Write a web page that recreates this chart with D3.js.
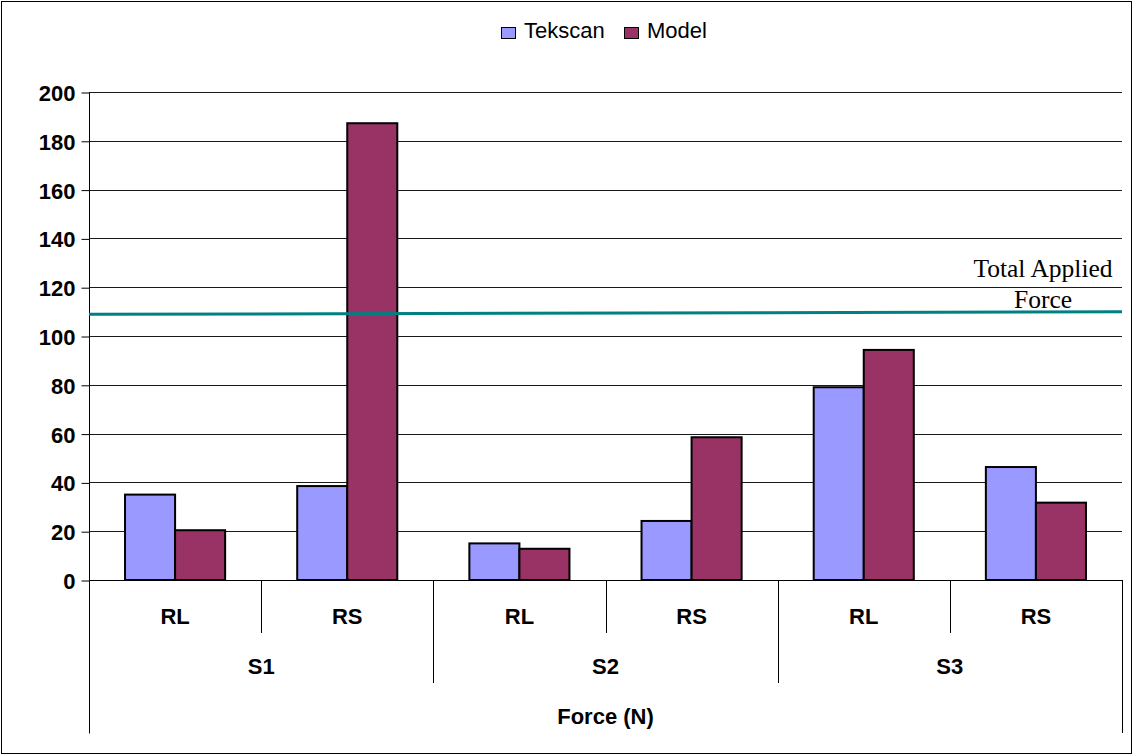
<!DOCTYPE html>
<html>
<head>
<meta charset="utf-8">
<script src="https://cdn.jsdelivr.net/npm/d3@7"></script>
<style>
  html, body { margin: 0; padding: 0; background: #fff; }
  svg { display: block; }
</style>
</head>
<body>
<svg id="chart" width="1133" height="755"></svg>
<script>
// Force (N) per site and region
const groups = ["S1", "S2", "S3"];
const regions = ["RL", "RS"];
const seriesNames = ["Tekscan", "Model"];
const tekscan = [35.0, 38.5, 15.0, 24.2, 79.0, 46.3];
const model = [20.4, 187.2, 12.8, 58.5, 94.3, 31.7];
const yTicks = [0, 20, 40, 60, 80, 100, 120, 140, 160, 180, 200];
// total applied force reference line, left and right end values
const totalForce = [108.9, 109.9];
const colors = ["#9999ff", "#993366"];

const sans = "Arial, 'Liberation Sans', sans-serif";
const serif = "'Times New Roman', 'Liberation Serif', serif";

const svg = d3.select("#chart");
const W = 1133, H = 755;
const m = { left: 89, right: 11, top: 92, bottom: 175 };
const x0 = m.left, x1 = W - m.right, yTop = m.top, yBase = H - m.bottom;

// outer frame
svg.append("rect").attr("x", 1.5).attr("y", 1.5).attr("width", W - 3).attr("height", H - 3)
  .attr("fill", "#fff").attr("stroke", "#000").attr("stroke-width", 1);

const y = d3.scaleLinear().domain([0, 200]).range([yBase, yTop]);

// flat category list: one band per (group, region)
const cats = [];
groups.forEach(g => regions.forEach(r => cats.push(g + "-" + r)));
const xb = d3.scaleBand().domain(cats).range([x0, x1]).paddingInner(0).paddingOuter(0);
const inner = d3.scaleBand().domain(seriesNames).range([0, xb.bandwidth()]).paddingInner(0).paddingOuter(0.72);

// gridlines
svg.append("g").selectAll("line").data(yTicks.filter(d => d > 0)).join("line")
  .attr("x1", x0).attr("x2", x1)
  .attr("y1", d => Math.round(y(d)) + 0.5).attr("y2", d => Math.round(y(d)) + 0.5)
  .attr("stroke", "#1a1a1a").attr("stroke-width", 1);

// y axis
const yAxis = d3.axisLeft(y).tickValues(yTicks).tickSize(8).tickPadding(6);
const ga = svg.append("g").attr("transform", `translate(${x0 + 0.5},0.5)`).call(yAxis);
ga.attr("font-size", null).attr("font-family", null);
ga.select(".domain").attr("d", `M0,${yTop}V${H - 22}`).attr("stroke", "#000");
ga.selectAll(".tick line").attr("stroke", "#000");
ga.selectAll(".tick text")
  .style("font-family", sans).style("font-size", "22px").style("font-weight", "bold")
  .attr("fill", "#000").attr("dy", "0.36em");

// bars
const rows = cats.map((c, i) => ({ cat: c, vals: [tekscan[i], model[i]] }));
const bars = svg.append("g");
rows.forEach(row => {
  bars.selectAll(null).data(row.vals.map((v, j) => ({ v, s: seriesNames[j], j }))).join("rect")
    .attr("x", d => xb(row.cat) + inner(d.s))
    .attr("width", inner.bandwidth())
    .attr("y", d => y(d.v))
    .attr("height", d => yBase - y(d.v))
    .attr("fill", d => colors[d.j])
    .attr("stroke", "#000").attr("stroke-width", 2);
});

// baseline
svg.append("line").attr("x1", x0).attr("x2", x1).attr("y1", yBase + 0.5).attr("y2", yBase + 0.5)
  .attr("stroke", "#000");

// category axis: region separators (short) and group separators (long)
const sep = svg.append("g").attr("stroke", "#000");
cats.forEach((c, i) => {
  if (i === 0) return;
  const xs = Math.round(xb(c)) + 0.5;
  const long = i % 2 === 0;
  sep.append("line").attr("x1", xs).attr("x2", xs).attr("y1", yBase).attr("y2", long ? 683 : 633);
});
sep.append("line").attr("x1", x1 + 0.5).attr("x2", x1 + 0.5).attr("y1", yBase).attr("y2", H - 22);

const boldText = sel => sel.style("font-family", sans).style("font-size", "22px")
  .style("font-weight", "bold").attr("text-anchor", "middle").attr("fill", "#000");

// region labels
svg.append("g").selectAll("text").data(cats).join("text")
  .attr("x", d => xb(d) + xb.bandwidth() / 2).attr("y", 624)
  .call(boldText)
  .text(d => d.split("-")[1]);

// group labels
svg.append("g").selectAll("text").data(groups).join("text")
  .attr("x", g => xb(g + "-RL") + xb.bandwidth()).attr("y", 674)
  .call(boldText)
  .text(g => g);

// axis title
svg.append("text").attr("x", (x0 + x1) / 2).attr("y", 724)
  .call(boldText)
  .text("Force (N)");

// total applied force line
const xl = d3.scaleLinear().domain([0, 1]).range([x0, x1]);
svg.append("path")
  .datum(totalForce)
  .attr("d", d3.line().x((d, i) => xl(i)).y(d => y(d)))
  .attr("stroke", "#008080").attr("stroke-width", 3).attr("fill", "none");

const lbl = svg.append("text").attr("text-anchor", "middle")
  .style("font-family", serif).style("font-size", "25.5px").attr("fill", "#000");
lbl.append("tspan").attr("x", 1043).attr("y", 277).text("Total Applied");
lbl.append("tspan").attr("x", 1043).attr("y", 308).text("Force");

// legend
const lg = svg.append("g");
const legendX = [501, 624];
seriesNames.forEach((s, i) => {
  lg.append("rect").attr("x", legendX[i] + 0.5).attr("y", 27.5).attr("width", 14).attr("height", 11)
    .attr("fill", colors[i]).attr("stroke", "#000").attr("stroke-width", 1);
  lg.append("text").attr("x", legendX[i] + 23).attr("y", 38)
    .style("font-family", sans).style("font-size", "22px").attr("fill", "#000").text(s);
});
</script>
</body>
</html>
